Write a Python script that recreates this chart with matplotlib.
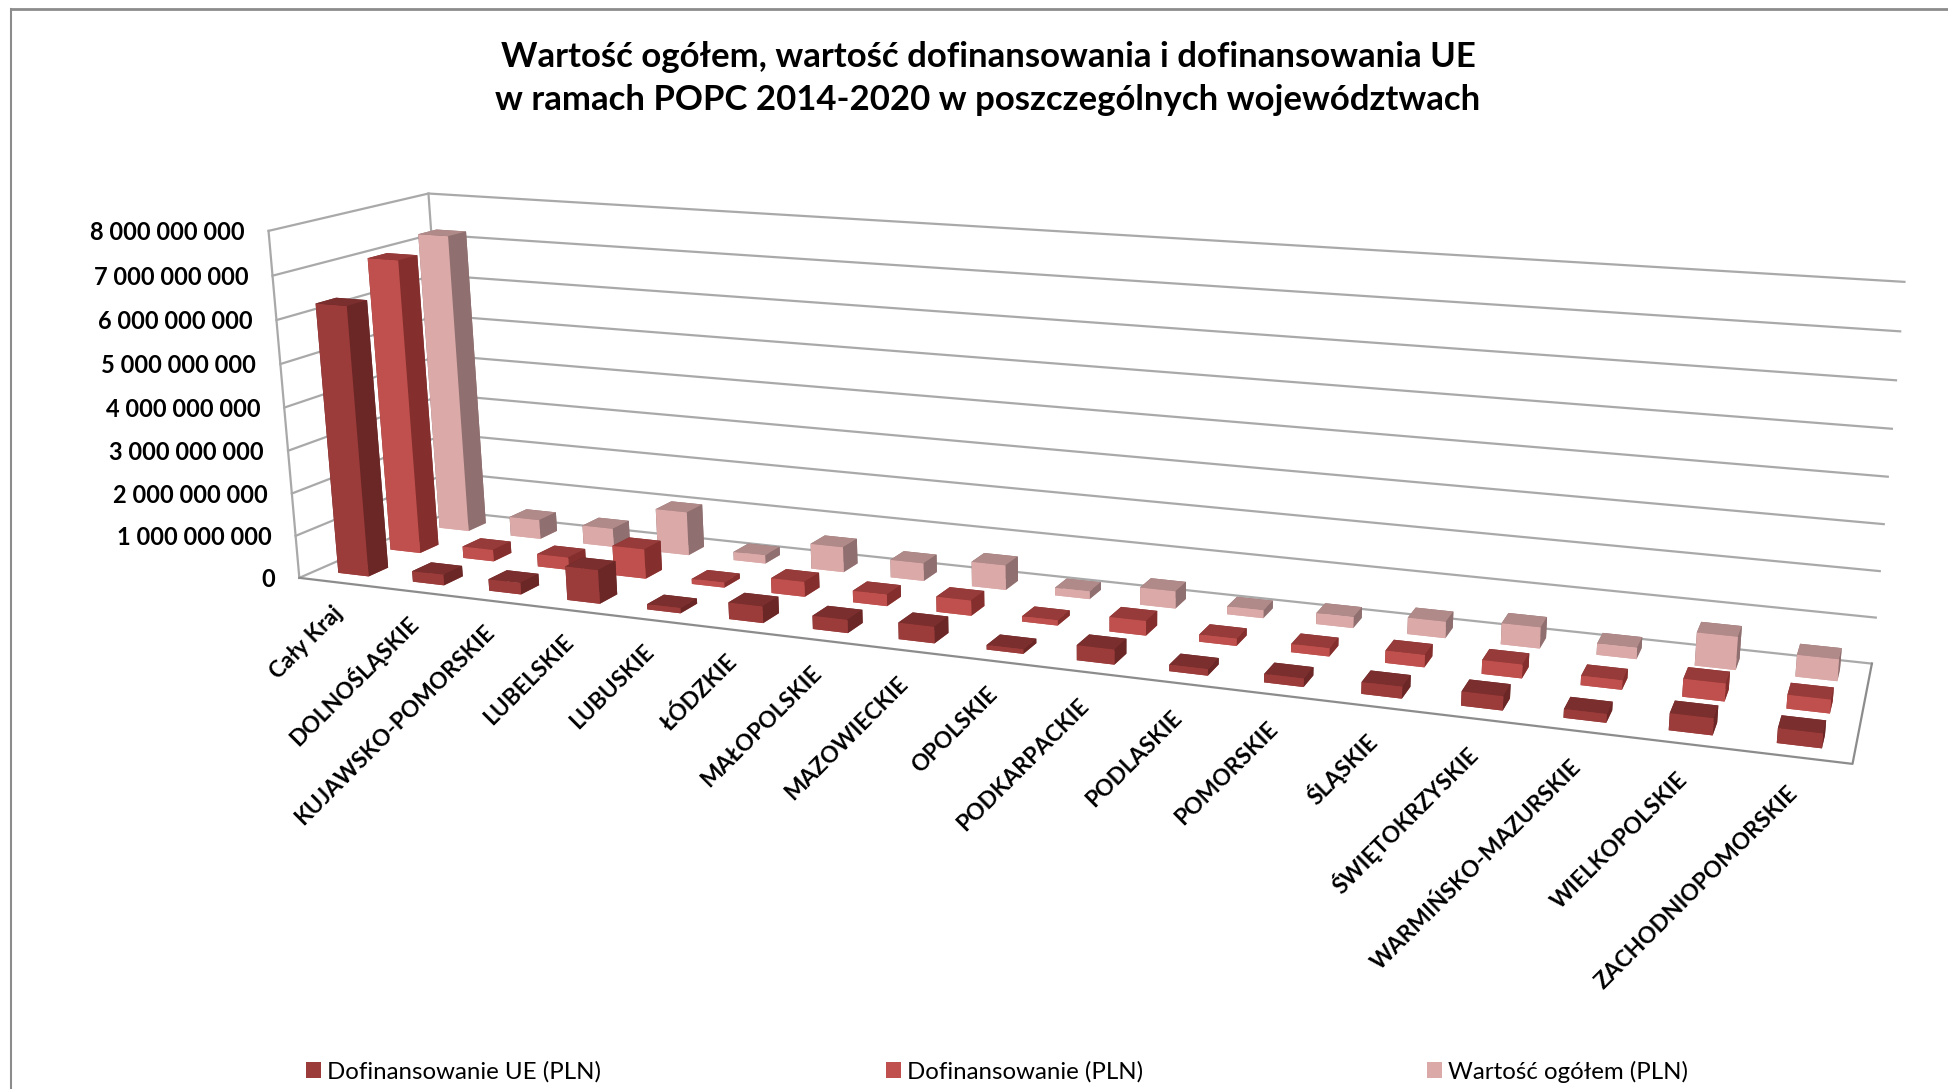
import numpy as np
import matplotlib
matplotlib.use("Agg")
import matplotlib.pyplot as plt
from matplotlib.lines import Line2D
from matplotlib.patches import Patch

W, H = 1948, 1089

categories = ["Cały Kraj", "DOLNOŚLĄSKIE", "KUJAWSKO-POMORSKIE", "LUBELSKIE", "LUBUSKIE",
              "ŁÓDZKIE", "MAŁOPOLSKIE", "MAZOWIECKIE", "OPOLSKIE", "PODKARPACKIE", "PODLASKIE",
              "POMORSKIE", "ŚLĄSKIE", "ŚWIĘTOKRZYSKIE", "WARMIŃSKO-MAZURSKIE", "WIELKOPOLSKIE",
              "ZACHODNIOPOMORSKIE"]

# values, in mln PLN
dof_ue = [6300, 250, 270, 780, 120, 380, 300, 370, 100, 330, 140, 180, 250, 300, 180, 350, 300]
dof = [7000, 280, 300, 700, 120, 350, 270, 350, 120, 330, 160, 180, 270, 300, 200, 380, 290]
total = [7250, 470, 450, 1050, 200, 600, 420, 580, 180, 400, 180, 250, 370, 470, 250, 720, 470]

series_names = ["Dofinansowanie UE (PLN)", "Dofinansowanie (PLN)", "Wartość ogółem (PLN)"]
series_values = [dof_ue, dof, total]
# front, right side, top
series_colors = [("#9B3B3A", "#6A2726", "#7A2E2D"),
                 ("#C0504D", "#842F2D", "#963B39"),
                 ("#DBA9A8", "#8F6F6F", "#B08A89")]

z_ticks = [0, 1000, 2000, 3000, 4000, 5000, 6000, 7000, 8000]
z_labels = ["0", "1 000 000 000", "2 000 000 000", "3 000 000 000", "4 000 000 000",
            "5 000 000 000", "6 000 000 000", "7 000 000 000", "8 000 000 000"]

N = len(categories)
ROWS = len(series_values)
ZMAX = z_ticks[-1]

# camera calibration: box corners (x, y, z) and where they sit on the canvas in px
box_corners = [(0, 0, 0), (0, 0, ZMAX), (0, ROWS, ZMAX), (0, ROWS, 0),
               (N, 0, 0), (N, ROWS, 0), (N, ROWS, ZMAX)]
canvas_corners = [(298.5, 577.3), (269.4, 231), (427.6, 193.3), (452, 512),
                  (1852.5, 764.4), (1871.8, 663), (1904.5, 282)]


def fit_camera(world, image):
    rows = []
    for (x, y, z), (u, v) in zip(world, image):
        p = [x, y, z / 1000, 1]
        u, v = u / 1000, v / 1000
        rows.append(p + [0, 0, 0, 0] + [-u * c for c in p])
        rows.append([0, 0, 0, 0] + p + [-v * c for c in p])
    P = np.linalg.svd(np.array(rows))[2][-1].reshape(3, 4)
    P = P @ np.diag([1, 1, 1 / 1000, 1])
    P = np.diag([1000, 1000, 1]) @ P
    # w = 1 at the first corner, growing away from the viewer
    return P / (P[2] @ np.array([0, 0, 0, 1]))


P = fit_camera(box_corners, canvas_corners)


def canvas_xy(x, y, z):
    p = P @ np.array([x, y, z, 1])
    return p[0] / p[2], p[1] / p[2]


plt.rcParams["font.family"] = ["Lato", "DejaVu Sans"]
fig = plt.figure(figsize=(W / 100, H / 100), dpi=100)
ax = fig.add_axes([0, 0, 1, 1], projection="3d")
ax.set_axis_off()
ax.computed_zorder = False
ax.apply_aspect = lambda position=None: None


def canvas_proj():
    b = ax.viewLim
    to_view = np.array([[(b.x1 - b.x0) / W, 0, b.x0],
                        [0, -(b.y1 - b.y0) / H, b.y1],
                        [0, 0, 1]])
    Q = to_view @ P
    # depth row gives -0.5 / w, mplot3d drops points with depth above 0
    return np.vstack([Q[0], Q[1], [0, 0, 0, -0.5], Q[2]])


ax.get_proj = canvas_proj

# walls and floor
GRID = "#A9A9A9"
for z in z_ticks:
    ax.plot([0, 0, N], [0, ROWS, ROWS], [z, z, z], color=GRID, lw=1.6, zorder=1)
ax.plot([0, 0], [0, 0], [0, ZMAX], color=GRID, lw=1.6, zorder=1)
ax.plot([0, 0], [ROWS, ROWS], [0, ZMAX], color=GRID, lw=1.6, zorder=1)
ax.plot([0, N, N], [0, 0, ROWS], [0, 0, 0], color="#8C8C8C", lw=1.6, zorder=1)

# bars
BAR_X = 0.41
BAR_Y = 0.37
xs, ys, heights, face_colors = [], [], [], []
for row, values in enumerate(series_values):
    front, side, top = series_colors[row]
    for i, v in enumerate(values):
        xs.append(i + 0.5 - BAR_X / 2)
        ys.append(row + 0.5 - BAR_Y / 2)
        heights.append(v)
        # bar3d face order: -z, +z, -y, +y, -x, +x
        face_colors += [front, top, front, side, side, side]
ax.bar3d(xs, ys, 0, BAR_X, BAR_Y, heights, color=face_colors, shade=False, zorder=2)

# axis labels
for z, label in zip(z_ticks, z_labels):
    u, v = canvas_xy(0, 0, z)
    fig.text((u - 24) / W, 1 - (v + 1.5) / H, label, ha="right", va="center", fontsize=17, fontweight="bold")
for i, name in enumerate(categories):
    u, v = canvas_xy(i + 0.5, 0, -660)
    fig.text(u / W, 1 - v / H, name, ha="right", va="center", rotation=45, rotation_mode="anchor",
             fontsize=16.4, fontweight="bold")

fig.text(988 / W, 1 - 78.5 / H, "Wartość ogółem, wartość dofinansowania i dofinansowania UE\n"
         "w ramach POPC 2014-2020 w poszczególnych województwach",
         ha="center", va="center", fontsize=25, fontweight="bold", linespacing=1.45)

handles = [Patch(facecolor=c[0]) for c in series_colors]
fig.legend(handles, series_names, ncols=3, loc="center left", bbox_to_anchor=(306 / W, 1 - 1071.5 / H),
           frameon=False, fontsize=17.3, handlelength=0.62, handleheight=0.62, handletextpad=0.25,
           columnspacing=11.85, borderpad=0, borderaxespad=0)

# outer frame of the chart
FRAME = "#8C8C8C"
fig.add_artist(Line2D([11 / W, 1], [1 - 8.5 / H, 1 - 8.5 / H], color=FRAME, lw=2))
fig.add_artist(Line2D([11 / W, 11 / W], [1 - 8.5 / H, 0], color=FRAME, lw=1.5))

fig.savefig("out.png", dpi=100)
